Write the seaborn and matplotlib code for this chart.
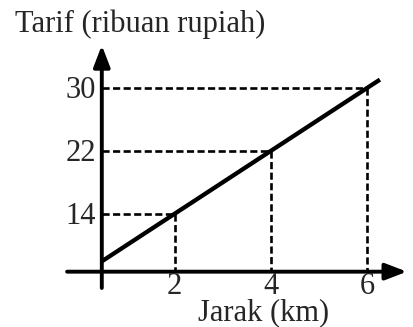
import numpy as np
import pandas as pd
import matplotlib
matplotlib.use('Agg')
import matplotlib.pyplot as plt
import seaborn as sns

# data dari gambar
jarak = [2, 4, 6]
tarif = [14, 22, 30]
label_y = 'Tarif (ribuan rupiah)'
label_x = 'Jarak (km)'

sns.set_style('white')
plt.rcParams['font.family'] = ['Liberation Serif', 'DejaVu Serif']

fig = plt.figure(figsize=(4.14, 3.27), dpi=100)
ax = fig.add_axes([0, 0, 1, 1])
ax.set_xlim(-1.622, 6.967)
ax.set_ylim(-0.375, 41.15)
ax.axis('off')

# posisi sumbu (gambar skematis)
x0, y0 = 0.49, 6.65

# garis putus-putus ke sumbu
for x, y in zip(jarak, tarif):
    ax.plot([x0, x], [y, y], color='black', lw=1.9, dashes=(2.7, 1.3))
    ax.plot([x, x], [y, y0], color='black', lw=1.9, dashes=(2.7, 1.3))

# garis tarif, diperpanjang sampai sumbu
coef = np.polyfit(jarak, tarif, 1)
xs = [x0] + jarak + [6.26]
df = pd.DataFrame({'jarak': xs, 'tarif': np.polyval(coef, xs)})
sns.lineplot(data=df, x='jarak', y='tarif', color='black', lw=3.1, ax=ax,
             solid_capstyle='butt')

# sumbu dengan panah
arrow = dict(arrowstyle='-|>,head_length=1.3,head_width=0.5', lw=2.8,
             color='black', mutation_scale=10, shrinkA=0, shrinkB=0)
ax.annotate('', xy=(x0, 35.4), xytext=(x0, 4.58), arrowprops=arrow)
ax.annotate('', xy=(6.82, y0), xytext=(-0.23, y0), arrowprops=arrow)

# label angka
for y in tarif:
    ax.text(x0 - 0.12, y - 0.3, str(y), ha='right', va='center', fontsize=22)
for x in jarak:
    ax.text(x, 6.6, str(x), ha='center', va='top', fontsize=22)

ax.text(-1.311, 37.09, label_y, ha='left', va='baseline', fontsize=22)
ax.text(3.845, 0.45, label_x, ha='center', va='baseline', fontsize=22)

fig.savefig('out.png', dpi=100)
